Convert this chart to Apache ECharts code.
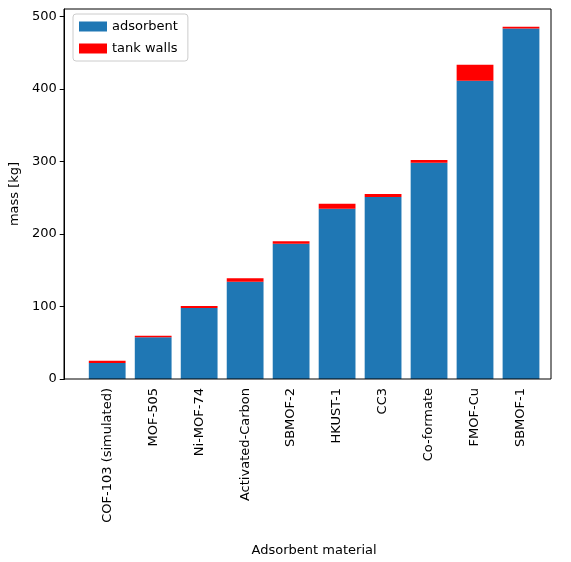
<!DOCTYPE html>
<html>
<head>
<meta charset="utf-8">
<script src="https://cdn.jsdelivr.net/npm/echarts@6/dist/echarts.min.js"></script>
<style>html,body{margin:0;padding:0;background:#fff}#chart{width:571px;height:562px}</style>
</head>
<body>
<div id="chart"></div>
<script>
var materials = ['COF-103 (simulated)', 'MOF-505', 'Ni-MOF-74', 'Activated-Carbon', 'SBMOF-2', 'HKUST-1', 'CC3', 'Co-formate', 'FMOF-Cu', 'SBMOF-1'];
var adsorbent = [22, 57.5, 98, 134, 186.5, 234.5, 251, 298, 411, 483];
var tankWalls = [3, 2, 2.7, 5, 3.5, 6.9, 4, 4, 22, 2.7];

var chart = echarts.init(document.getElementById('chart'));
var font = 'DejaVu Sans';
chart.setOption({
    animation: false,
    textStyle: {fontFamily: font},
    grid: {left: 83.5, right: 27, top: 9, bottom: 183},
    graphic: [{
        type: 'rect', z: 100, silent: true,
        shape: {x: 64, y: 9, width: 487, height: 370},
        style: {fill: 'none', stroke: '#000', lineWidth: 1}
    }],
    legend: {
        left: 73, top: 14, orient: 'vertical',
        itemWidth: 28, itemHeight: 10, itemGap: 9,
        padding: [6, 10, 6, 6],
        borderColor: '#ccc', borderWidth: 1, borderRadius: 3,
        textStyle: {fontSize: 13, color: '#000', fontFamily: font},
        data: [{name: 'adsorbent', icon: 'rect'}, {name: 'tank walls', icon: 'rect'}]
    },
    xAxis: {
        type: 'category', data: materials,
        name: 'Adsorbent material', nameLocation: 'middle', nameGap: 165,
        nameTextStyle: {fontSize: 13, color: '#000'},
        axisLine: {show: false},
        axisTick: {alignWithLabel: true, length: 5, lineStyle: {color: '#000'}},
        axisLabel: {rotate: 90, color: '#000', fontSize: 13, interval: 0, margin: 9},
        splitLine: {show: false}
    },
    yAxis: {
        type: 'value', min: 0, max: 510, interval: 100, offset: 19.5,
        name: 'mass [kg]', nameLocation: 'middle', nameGap: 40,
        nameTextStyle: {fontSize: 13, color: '#000'},
        axisLine: {show: true, lineStyle: {color: '#000'}},
        axisTick: {show: true, length: 5, lineStyle: {color: '#000'}},
        axisLabel: {color: '#000', fontSize: 13, showMaxLabel: false},
        splitLine: {show: false}
    },
    series: [
        {name: 'adsorbent', type: 'bar', stack: 'm', data: adsorbent, barWidth: '80%', itemStyle: {color: '#1f77b4'}},
        {name: 'tank walls', type: 'bar', stack: 'm', data: tankWalls, barWidth: '80%', itemStyle: {color: '#ff0000'}}
    ]
});
</script>
</body>
</html>
